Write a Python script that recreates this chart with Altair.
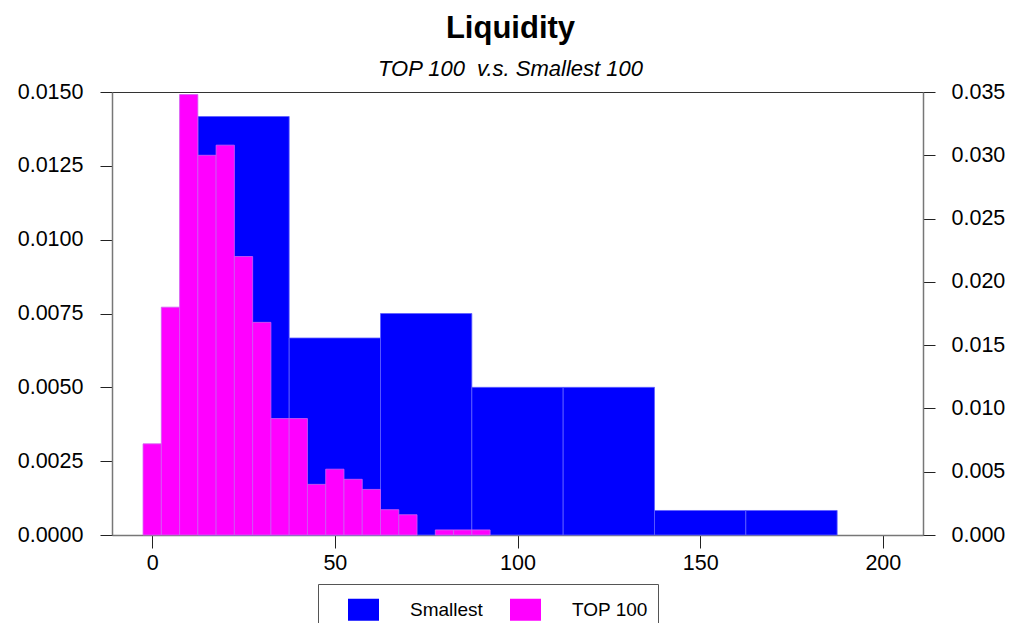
import altair as alt
import pandas as pd

# Smallest 100 histogram (left axis)
small_start = [12.5, 37.5, 62.5, 87.5, 112.5, 137.5, 162.5]
small_end = [37.5, 62.5, 87.5, 112.5, 137.5, 162.5, 187.5]
small_density = [0.01417, 0.00667, 0.0075, 0.005, 0.005, 0.00083, 0.00083]

# TOP 100 histogram (right axis)
top_start = [-2.5, 2.5, 7.5, 12.5, 17.5, 22.5, 27.5, 32.5, 37.5, 42.5,
             47.5, 52.5, 57.5, 62.5, 67.5, 77.5, 82.5, 87.5]
top_end = [2.5, 7.5, 12.5, 17.5, 22.5, 27.5, 32.5, 37.5, 42.5, 47.5,
           52.5, 57.5, 62.5, 67.5, 72.5, 82.5, 87.5, 92.5]
top_density = [0.0072, 0.018, 0.0348, 0.030, 0.0308, 0.022, 0.0168, 0.0092, 0.0092, 0.004,
               0.0052, 0.0044, 0.0036, 0.002, 0.0016, 0.0004, 0.0004, 0.0004]

x_ticks = [0, 50, 100, 150, 200]
left_ticks = [0, 0.0025, 0.005, 0.0075, 0.01, 0.0125, 0.015]
right_ticks = [0, 0.005, 0.01, 0.015, 0.02, 0.025, 0.03, 0.035]
series_names = ["Smallest", "TOP 100"]
series_colors = ["#0000FF", "#FF00FF"]

df_small = pd.DataFrame({"start": small_start, "end": small_end,
                         "density": small_density, "series": "Smallest"})
df_top = pd.DataFrame({"start": top_start, "end": top_end,
                       "density": top_density, "series": "TOP 100"})

FONT = "Liberation Sans"
color_scale = alt.Scale(domain=series_names, range=series_colors)
x_scale = alt.Scale(domain=[-11, 211], nice=False, zero=False)
x_axis = alt.Axis(values=x_ticks, title=None, grid=False, labelPadding=4, tickSize=13,
                  format="d")

legend = alt.Legend(
    title=None, orient="none", legendX=206, legendY=492, direction="horizontal",
    symbolType="M-1,-0.71H1V0.71H-1Z", symbolSize=961, symbolStrokeWidth=0,
    symbolOpacity=1, labelFont=FONT, labelFontSize=19, labelColor="black",
    labelOffset=31, columnPadding=7, padding=10, strokeColor="#555",
    symbolOffset=20,
)

blue = alt.Chart(df_small).mark_rect(stroke="#6060ff", strokeWidth=0.8).encode(
    x=alt.X("start:Q", scale=x_scale, axis=x_axis),
    x2="end:Q",
    y=alt.Y("density:Q", scale=alt.Scale(domain=[0, 0.015], nice=False),
            axis=alt.Axis(orient="left", values=left_ticks, format=".4f", title=None,
                          grid=False, labelPadding=17)),
    y2=alt.datum(0),
    color=alt.Color("series:N", scale=color_scale, legend=legend),
)

magenta = alt.Chart(df_top).mark_rect(stroke="#d060f0", strokeWidth=0.8).encode(
    x=alt.X("start:Q", scale=x_scale, axis=x_axis),
    x2="end:Q",
    y=alt.Y("density:Q", scale=alt.Scale(domain=[0, 0.035], nice=False),
            axis=alt.Axis(orient="right", values=right_ticks, format=".3f", title=None,
                          grid=False, labelPadding=16)),
    y2=alt.datum(0),
    color=alt.Color("series:N", scale=color_scale, legend=legend),
)

chart = alt.layer(blue, magenta).resolve_scale(y="independent").properties(
    width=811, height=443,
    autosize=alt.AutoSizeParams(type="none"),
    padding={"left": 112, "top": 92, "right": 87, "bottom": 88},
    title=alt.TitleParams(
        text="Liquidity", subtitle="TOP 100\u00a0 v.s. Smallest 100",
        font=FONT, fontSize=31, fontWeight="bold", color="black",
        subtitleFont=FONT, subtitleFontSize=22, subtitleFontStyle="italic",
        subtitleColor="black", anchor="middle", offset=0, subtitlePadding=14, dx=-7,
    ),
).configure_axis(
    labelFont=FONT, labelFontSize=21.5, labelColor="black",
    domainColor="#777", domainWidth=1.5, tickColor="#222", tickSize=12, tickWidth=1,
).configure_view(stroke="#333", strokeWidth=1)

chart.save("out.html", embed_options={"renderer": "svg", "actions": False})
